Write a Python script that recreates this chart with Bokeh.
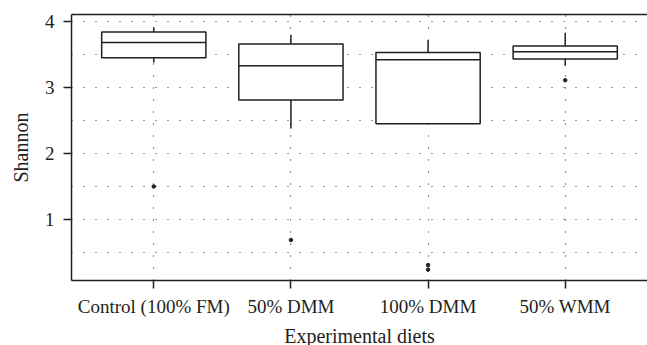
from bokeh.plotting import figure
from bokeh.models import Range1d, FixedTicker, LinearAxis, ColumnDataSource
from bokeh.embed import file_html
from bokeh.resources import INLINE

categories = ["Control (100% FM)", "50% DMM", "100% DMM", "50% WMM"]
lower_whisker = [3.38, 2.38, 2.45, 3.33]
q1 = [3.45, 2.81, 2.45, 3.43]
median = [3.68, 3.33, 3.42, 3.54]
q3 = [3.84, 3.66, 3.53, 3.63]
upper_whisker = [3.91, 3.80, 3.72, 3.83]
outlier_group = ["Control (100% FM)", "50% DMM", "100% DMM", "100% DMM", "50% WMM"]
outlier_values = [1.50, 0.69, 0.31, 0.24, 3.11]

FONT = "Liberation Serif"
INK = "#231f20"
BOX_W = 0.76

pos = {c: i + 1 for i, c in enumerate(categories)}
xs = [pos[c] for c in categories]

src = ColumnDataSource(dict(
    x=xs, left=[x - BOX_W / 2 for x in xs], right=[x + BOX_W / 2 for x in xs],
    lw=lower_whisker, q1=q1, med=median, q3=q3, uw=upper_whisker))
osrc = ColumnDataSource(dict(x=[pos[c] for c in outlier_group], y=outlier_values))

p = figure(frame_width=576, frame_height=266, output_backend="svg", toolbar_location=None,
           x_range=Range1d(0.4, 4.6), y_range=Range1d(0.076, 4.106),
           min_border_left=71, min_border_top=14, min_border_bottom=0, min_border_right=0)
p.outline_line_color = None
p.background_fill_color = "white"

# grid
p.xgrid.ticker = FixedTicker(ticks=xs)
p.ygrid.ticker = FixedTicker(ticks=[1, 2, 3, 4], minor_ticks=[0.5, 1.5, 2.5, 3.5])
for g in (p.xgrid, p.ygrid):
    g.grid_line_color = "#333333"
    g.grid_line_dash = "1 11"
    g.grid_line_width = 1.2
p.ygrid.minor_grid_line_color = "#333333"
p.ygrid.minor_grid_line_dash = "1 11"
p.ygrid.minor_grid_line_width = 1.2

# whiskers
p.segment(x0="x", y0="q3", x1="x", y1="uw", source=src, line_color=INK, line_width=1.5)
p.segment(x0="x", y0="q1", x1="x", y1="lw", source=src, line_color=INK, line_width=1.5)
# boxes
p.quad(left="left", right="right", bottom="q1", top="q3", source=src,
       fill_color="white", line_color=INK, line_width=1.5)
p.segment(x0="left", y0="med", x1="right", y1="med", source=src, line_color=INK, line_width=1.5)
# outliers
p.scatter(x="x", y="y", source=osrc, size=3.5, color=INK)

# axes
xa = p.xaxis[0]
xa.ticker = FixedTicker(ticks=xs)
xa.major_label_overrides = {pos[c]: c for c in categories}
ya = p.yaxis[0]
ya.ticker = FixedTicker(ticks=[1, 2, 3, 4])
for ax in (xa, ya):
    ax.axis_line_color = INK
    ax.axis_line_width = 1.5
    ax.major_tick_line_color = INK
    ax.major_tick_line_width = 1.5
    ax.major_tick_out = 8
    ax.major_tick_in = 0
    ax.minor_tick_line_color = None
    ax.major_label_text_font = FONT
    ax.major_label_text_font_size = "19px"
    ax.major_label_text_color = INK
    ax.axis_label_text_font = FONT
    ax.axis_label_text_font_size = "20px"
    ax.axis_label_text_font_style = "normal"
    ax.axis_label_text_color = INK
xa.axis_label = "Experimental diets"
ya.axis_label = "Shannon"
xa.major_label_standoff = 7
xa.axis_label_standoff = 5
ya.major_label_standoff = 9
ya.axis_label_standoff = 10

top = LinearAxis(ticker=FixedTicker(ticks=[]), axis_line_color=INK, axis_line_width=1.5,
                 major_tick_line_color=None, minor_tick_line_color=None,
                 major_label_text_font_size="0px")
p.add_layout(top, "above")

open("out.html", "w").write(file_html(p, INLINE))
